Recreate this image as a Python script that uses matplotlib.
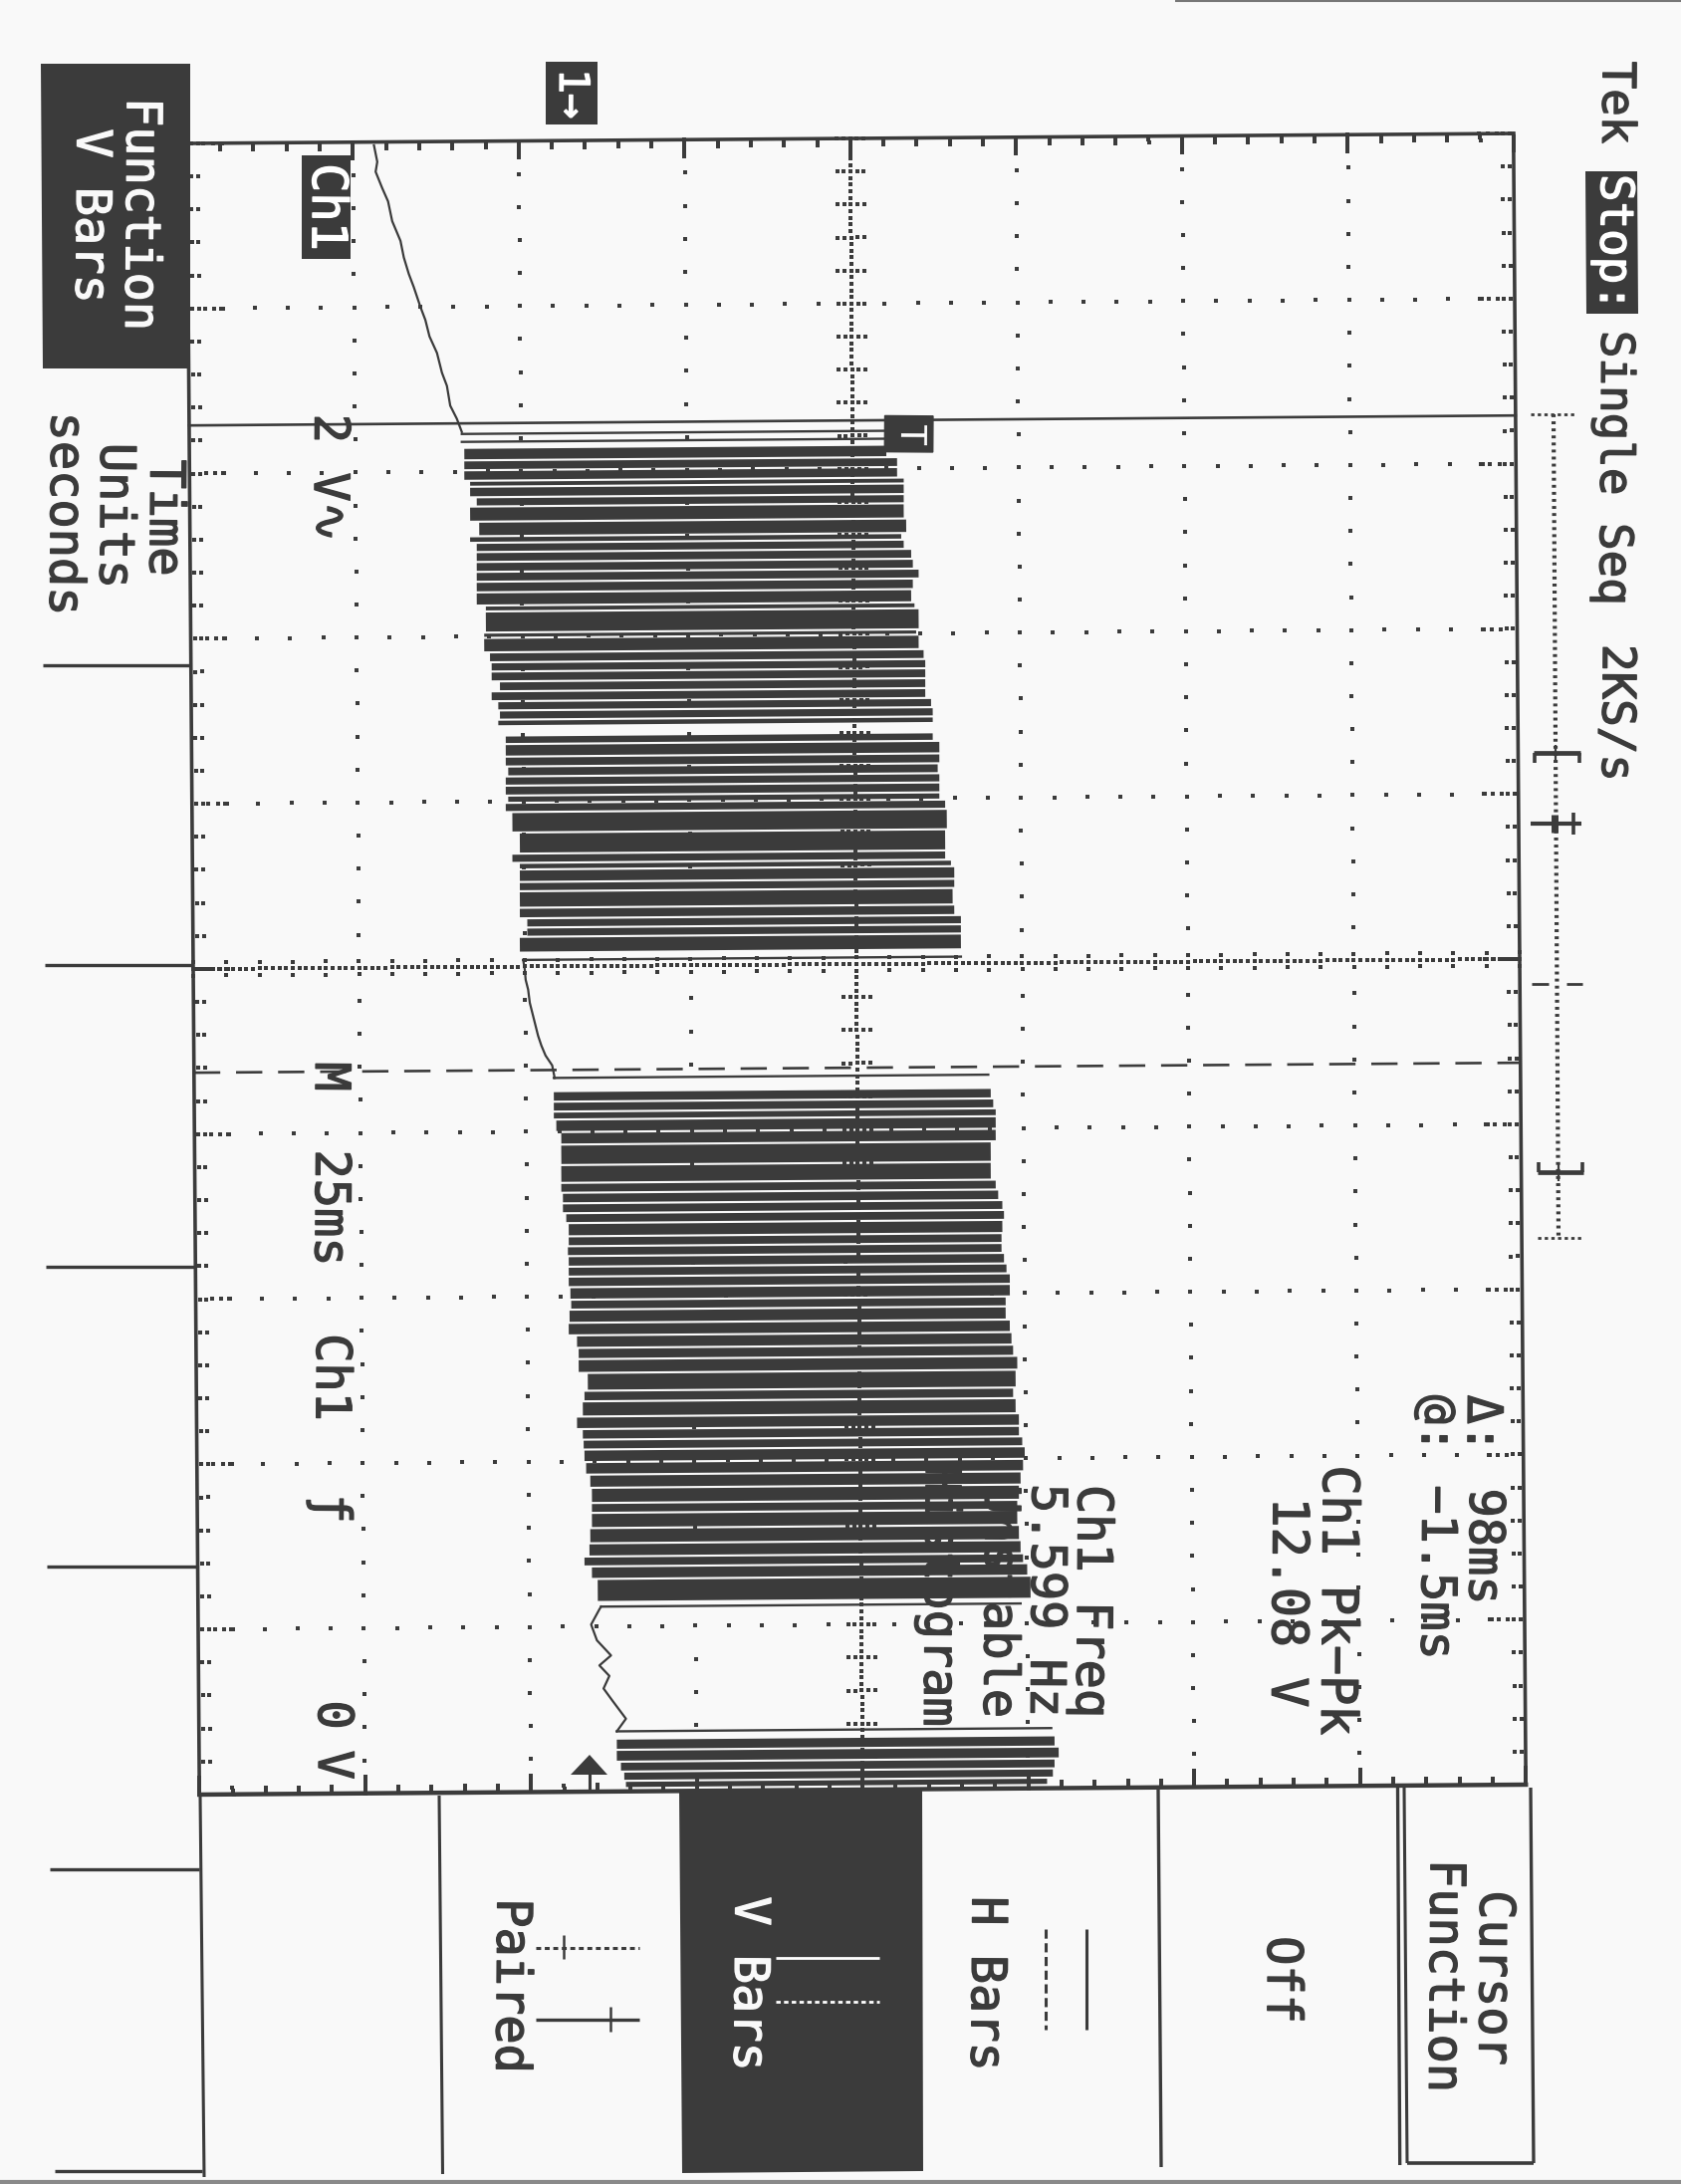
import numpy as np
import matplotlib
matplotlib.use('Agg')
import matplotlib.pyplot as plt
import matplotlib.patheffects as pe
from matplotlib.artist import Artist
from matplotlib.transforms import Affine2D

W, H = 1688, 2193
INK = '#3b3b3b'
PAPER = '#f9f9f9'
plt.rcParams['font.family'] = ['DejaVu Sans Mono', 'DejaVu Sans']

# readings off the scope: time in ms from screen centre, level in volts
cursor_a_ms = -82.3
cursor_b_ms = 15.7

lead_t = [-124.5, -122, -120.5, -118, -116, -113, -110, -107.5, -105, -103, -100, -98, -95.5, -93, -90, -88, -85, -83, -81]
lead_v = [-2.62, -2.58, -2.60, -2.52, -2.45, -2.40, -2.30, -2.26, -2.20, -2.14, -2.06, -2.00, -1.95, -1.86, -1.80, -1.74, -1.70, -1.62, -1.56]

mid_t = [-1.0, 0.5, 2.0, 3.5, 5.5, 7.5, 9.0, 10.5, 12.0, 13.5, 15.0, 16.9]
mid_v = [-0.82, -0.80, -0.79, -0.76, -0.74, -0.70, -0.67, -0.64, -0.60, -0.55, -0.47, -0.44]

tail_t = [97.0, 97.4, 99.7, 102.1, 104.4, 105.9, 107.5, 109.4, 111.3, 114.0, 115.9]
tail_v = [0.12, 0.10, 0.00, 0.07, 0.24, 0.10, 0.22, 0.15, 0.26, 0.42, 0.31]

# single thin pulses at the start and end of the bursts
thin_t = [-80.7, -79.5, -1.0, 16.9, 97.0, 115.9]
thin_low = [-1.56, -1.56, -0.82, -0.45, 0.12, 0.31]
thin_high = [3.60, 3.60, 4.46, 4.79, 5.18, 5.55]

# dark bands of pulses, edges are the thin white gaps between them
burst1a_edges = [-78.6, -76.7, -75.2, -73.6, -72.7, -71.1, -69.7, -67.4, -65.2, -64.2, -62.8, -61.3, -59.8, -58.3,
                 -56.7, -54.7, -53.8, -50.6, -49.8, -47.6, -46.1, -44.7, -43.2, -41.7, -40.2, -38.8, -37.4, -36.4]
burst1a_low = [-1.53, -1.53, -1.53, -1.46, -1.46, -1.38, -1.46, -1.35, -1.46, -1.38, -1.38, -1.38, -1.38, -1.38,
               -1.38, -1.27, -1.27, -1.29, -1.29, -1.22, -1.20, -1.20, -1.10, -1.20, -1.12, -1.10, -1.12]
burst1a_high = [3.56, 3.69, 3.69, 3.77, 3.77, 3.77, 3.77, 3.80, 3.74, 3.77, 3.86, 3.88, 3.95, 3.88,
                3.86, 3.90, 3.95, 3.92, 3.95, 4.01, 4.03, 4.03, 4.03, 4.03, 4.10, 4.12, 4.12]

burst1b_edges = [-35.0, -33.7, -31.8, -30.3, -28.8, -27.4, -25.9, -24.8, -23.4, -20.3, -17.1, -15.7, -14.7, -12.8,
                 -11.4, -8.9, -7.3, -5.9, -4.5, -2.1]
burst1b_low = [-1.03, -1.03, -1.03, -1.00, -1.03, -1.03, -1.00, -1.03, -0.95, -0.86, -0.95, -0.86, -0.86, -0.86,
               -0.86, -0.86, -0.77, -0.77, -0.86]
burst1b_high = [4.12, 4.20, 4.20, 4.18, 4.20, 4.20, 4.20, 4.27, 4.29, 4.27, 4.27, 4.34, 4.38, 4.38,
                4.36, 4.38, 4.46, 4.46, 4.46]

burst2_edges = [18.9, 20.5, 22.0, 23.2, 25.1, 27.0, 30.1, 32.8, 34.3, 35.9, 37.4, 38.9, 40.9, 42.4, 43.9, 45.5, 47.0,
                48.6, 50.5, 52.0, 54.0, 55.9, 57.8, 59.5, 61.6, 64.3, 65.9, 68.2, 70.1, 71.7, 73.2, 75.1, 77.0, 79.0,
                81.3, 82.8, 85.1, 87.4, 89.4, 90.9, 92.8, 96.3]
burst2_low = [-0.45, -0.45, -0.45, -0.42, -0.36, -0.36, -0.36, -0.36, -0.34, -0.34, -0.30, -0.27, -0.27, -0.28, -0.27,
              -0.27, -0.27, -0.25, -0.24, -0.26, -0.27, -0.17, -0.15, -0.15, -0.04, -0.08, -0.10, -0.17, -0.10, -0.09,
              -0.08, -0.06, -0.01, 0.01, 0.01, 0.01, -0.01, -0.02, -0.08, 0.01, 0.08]
burst2_high = [4.82, 4.85, 4.88, 4.88, 4.88, 4.82, 4.82, 4.88, 4.91, 4.96, 4.98, 4.96, 4.95, 4.95, 4.98,
               5.01, 5.05, 5.05, 5.00, 5.00, 5.05, 5.07, 5.09, 5.14, 5.12, 5.09, 5.12, 5.16, 5.16, 5.20,
               5.23, 5.21, 5.18, 5.16, 5.14, 5.14, 5.16, 5.18, 5.21, 5.26, 5.30]

burst3_edges = [117.0, 118.7, 120.5, 122.0, 123.4, 124.5]
burst3_low = [0.31, 0.31, 0.36, 0.40, 0.42]
burst3_high = [5.59, 5.64, 5.59, 5.57, 5.50]

# graticule: 8 divisions of 2 V, 10 divisions of 25 ms
v_left, v_right = -4.8, 11.2
t_top, t_bottom = -125.0, 125.0
v_centre = 3.2

fig = plt.figure(figsize=(W / 100, H / 100), dpi=100, facecolor=PAPER)

# page layer in pixels, for the menus and the text
page = fig.add_axes([0, 0, 1, 1], zorder=1)
page.set_xlim(0, W)
page.set_ylim(H, 0)
page.set_axis_off()


def label(x, y, s, size=35, color=INK):
    # the stroke thickens the glyphs a bit, the scope font is heavy
    page.text(x, y, s, rotation=-90.43, ha='center', va='center', fontsize=size, color=color,
              path_effects=[pe.withStroke(linewidth=1.0, foreground=color)])


def seg(x0, y0, x1, y1, lw=2.2, ls='-', color=INK):
    page.plot([x0, x1], [y0, y1], color=color, lw=lw, ls=ls, solid_capstyle='butt')


# dark boxes
page.fill([41, 191, 191, 43], [64, 64, 370, 370], color=INK, lw=0)
page.fill([1592, 1644, 1645, 1593], [172, 172, 315, 315], color=INK, lw=0)
page.fill([303, 352, 352, 303], [156, 156, 260, 260], color=INK, lw=0)
page.fill([548, 600, 600, 548], [62, 62, 125, 125], color=INK, lw=0)
page.fill([682, 926, 927, 685], [1797, 1797, 2180, 2182], color=INK, lw=0)

# left tabs
for ty, x0, x1 in [(668, 43, 192), (969, 45, 194), (1272, 46, 196), (1573, 47, 198), (1877, 50, 200), (2180, 55, 203)]:
    seg(x0, ty, x1, ty, lw=2.4)

# bottom menu dividers
seg(201, 1803, 205, 2186)
seg(441, 1803, 444.5, 2183)
seg(1163, 1797, 1166, 2176, lw=2.4)
seg(1403.5, 1795, 1405.7, 2174, lw=2.4)
seg(1410, 1795, 1413, 2172, lw=2.2)
seg(1537, 1795, 1540, 2172, lw=2.4)
seg(1413, 2172, 1540, 2172, lw=2.6)

# scan edges
seg(0, 2191, W, 2191, lw=3, color='#8a8a8a')
seg(1180, 0.5, W, 0.5, lw=1.5, color='#777777')

# record view bar right of the graticule
page.plot([1560, 1565], [416, 1243], color=INK, lw=3, ls=(0, (0.7, 1.0)))
seg(1537, 416, 1582, 416, lw=2, ls=(0, (1.2, 1.2)))
seg(1544, 1243, 1588, 1243, lw=2, ls=(0, (1.2, 1.2)))
seg(1540, 756, 1587, 756, lw=3.4)
seg(1541, 756, 1541, 766, lw=2.6)
seg(1586, 756, 1586, 766, lw=2.6)
seg(1562, 748, 1562, 766, lw=1.6)
seg(1537, 827, 1588, 827, lw=3)
seg(1580, 816, 1580, 838, lw=2.6)
seg(1561, 818, 1561, 836, lw=5)
seg(1538, 988, 1555, 988, lw=2)
seg(1573, 988, 1589, 988, lw=2)
seg(1544, 1177, 1590, 1177, lw=3.4)
seg(1545, 1167, 1545, 1177, lw=2.6)
seg(1589, 1167, 1589, 1177, lw=2.6)
seg(1565, 1167, 1565, 1186, lw=1.6)

# menu icons
seg(538, 1956, 642, 1956, lw=2.2, ls=(0, (1.6, 1.2)))
seg(566, 1943, 566, 1967, lw=1.8)
seg(538, 2028, 642, 2028, lw=2.4)
seg(613, 2015, 613, 2040, lw=1.8)
seg(779, 1966, 883, 1966, lw=2, color='white')
seg(779, 2010, 883, 2010, lw=2, ls=(0, (1.6, 1.2)), color='white')
seg(1091, 1937, 1091, 2038, lw=2.2)
seg(1050, 1937, 1050, 2038, lw=2.2, ls=(0, (3, 1.5)))

# ground marker
page.fill([592, 573, 610], [1762, 1782, 1782], color=INK, lw=0)
seg(592, 1780, 592, 1797, lw=2.2)

# text
label(1622, 103, 'Tek', 33)
label(1620, 244, 'Stop:', 33, 'white')
label(1620, 470, 'Single Seq', 33)
label(1622, 716, '2KS/s', 33)
label(141, 215, 'Function', color=PAPER)
label(91, 217, 'V Bars', color=PAPER)
label(165, 520, 'Time')
label(115, 518, 'Units')
label(65, 516, 'seconds')
label(328, 208, 'Ch1', color='white')
label(574, 94, '1\u2192', 30, 'white')
label(330, 480, '2 V\u223f')
label(331, 1081, 'M')
label(331, 1213, '25ms')
label(332, 1383, 'Ch1')
label(332, 1515, '\u0192')
label(334, 1722, '0')
label(334, 1772, 'V')
label(1488, 1430, '\u0394:')
label(1490, 1553, '98ms')
label(1442, 1430, '@:')
label(1442, 1579, '\u22121.5ms')
label(1342, 1607, 'Ch1 Pk\u2212Pk', 36)
label(1292, 1609, '12.08 V', 36)
label(1096, 1608, 'Ch1 Freq')
label(1050, 1607, '5.599 Hz')
label(1003, 1608, 'Unstable')
label(943, 1602, 'Histogram')
label(752, 1992, 'V Bars', color=PAPER)
label(513, 1994, 'Paired')
label(990, 1992, 'H Bars')
label(1287, 1988, 'Off')
label(1500, 1986, 'Cursor')
label(1450, 1984, 'Function')

# scope layer, volts run to the right of the page and time runs down
ax = fig.add_axes([(860 - 666) / W, (H - 968 - 829) / H, 1332 / W, 1658 / H], zorder=2)
ax.set_xlim(v_left, v_right)
ax.set_ylim(t_bottom, t_top)
ax.set_axis_off()
ax.patch.set_alpha(0)

t_minor = np.arange(t_top, t_bottom + 0.1, 5.0)
v_minor = v_left + 0.4 * np.arange(41)
t_major = t_top + 25.0 * np.arange(11)
v_major = v_left + 2.0 * np.arange(9)
t_fine = np.arange(t_top, t_bottom + 0.1, 1.0)
v_fine = v_left + 0.08 * np.arange(201)

dot_v, dot_t = [], []


def dots(vs, ts):
    vv, tt = np.meshgrid(vs, ts)
    dot_v.extend(vv.ravel())
    dot_t.extend(tt.ravel())


dots(v_major[1:-1], t_minor)
dots(v_minor[1:-1], t_major[1:-1])
dots([v_centre], t_fine)
dots(v_fine, [0.0])
dots(v_centre + np.array([-0.16, -0.08, 0.08, 0.16]), t_minor)
dots(v_minor, np.array([-1.0, 1.0]))
# border ticks, a little longer on the major divisions
dots(v_left + np.array([0.05, 0.13]), t_minor)
dots(v_right - np.array([0.05, 0.13]), t_minor)
dots(v_left + np.array([0.20, 0.31, 0.42]), t_major)
dots(v_right - np.array([0.20, 0.31, 0.42]), t_major)
dots(v_minor, t_top + np.array([0.5, 1.0]))
dots(v_minor, t_bottom - np.array([0.5, 1.0]))
dots(v_major, t_top + np.array([1.5, 2.0, 2.5]))
dots(v_major, t_bottom - np.array([1.5, 2.0, 2.5]))
ax.plot(dot_v, dot_t, ls='none', marker='s', ms=2.3, mew=0, color=INK, zorder=1)

# frame
ax.plot([v_left, v_right], [t_top, t_top], color=INK, lw=2.6, zorder=3)
ax.plot([v_left, v_right], [t_bottom, t_bottom], color=INK, lw=3.2, zorder=3)
ax.plot([v_left, v_left], [t_top, t_bottom], color=INK, lw=2.6, zorder=3)
ax.plot([v_right, v_right], [t_top, t_bottom], color=INK, lw=2.6, zorder=3)

# cursors
ax.plot([v_left, v_right], [cursor_a_ms, cursor_a_ms], color=INK, lw=1.9, zorder=3)
ax.plot([v_left, v_right], [cursor_b_ms, cursor_b_ms], color=INK, lw=1.9, ls=(0, (10, 6)), zorder=3)

tilt_v_per_ms = 0.0006

# pulse bands
gap_ms = 0.32
for edges, low, high in [(burst1a_edges, burst1a_low, burst1a_high),
                         (burst1b_edges, burst1b_low, burst1b_high),
                         (burst2_edges, burst2_low, burst2_high),
                         (burst3_edges, burst3_low, burst3_high)]:
    edges = np.array(edges)
    mids = (edges[:-1] + edges[1:]) / 2
    low = np.array(low) - tilt_v_per_ms * mids
    high = np.array(high) - tilt_v_per_ms * mids
    ax.barh(mids, high - low, left=low, height=np.diff(edges) - gap_ms, color=INK, lw=0, zorder=2)

# thin pulses and the slow ramps between the bursts
for t, lo, hi in zip(thin_t, thin_low, thin_high):
    ax.plot([lo - tilt_v_per_ms * t, hi - tilt_v_per_ms * t], [t, t], color=INK, lw=1.7, zorder=2)
for ts, vs in [(lead_t, lead_v), (mid_t, mid_v), (tail_t, tail_v)]:
    ts = np.array(ts)
    ax.plot(np.array(vs) - tilt_v_per_ms * ts, ts, color=INK, lw=1.6, zorder=2)

# trigger position flag
ax.text(3.88, -80.2, 'T', rotation=-90.43, ha='center', va='center', fontsize=26, color='white', zorder=4,
        bbox=dict(boxstyle='square,pad=0.2', fc=INK, ec=INK, lw=1))

# the screenshot sits slightly skewed on the scanned page
skew = Affine2D().rotate_deg_around(860, H - 968, 0.43)
for line in ax.lines:
    line.set_transform(line.get_transform() + skew)
    line.set_clip_on(False)
for bar in ax.patches:
    bar.set_transform(Artist.get_transform(bar) + skew)
    bar.set_clip_on(False)
for txt in ax.texts:
    txt.set_transform(txt.get_transform() + skew)

fig.savefig('out.png', dpi=100, facecolor=PAPER)
